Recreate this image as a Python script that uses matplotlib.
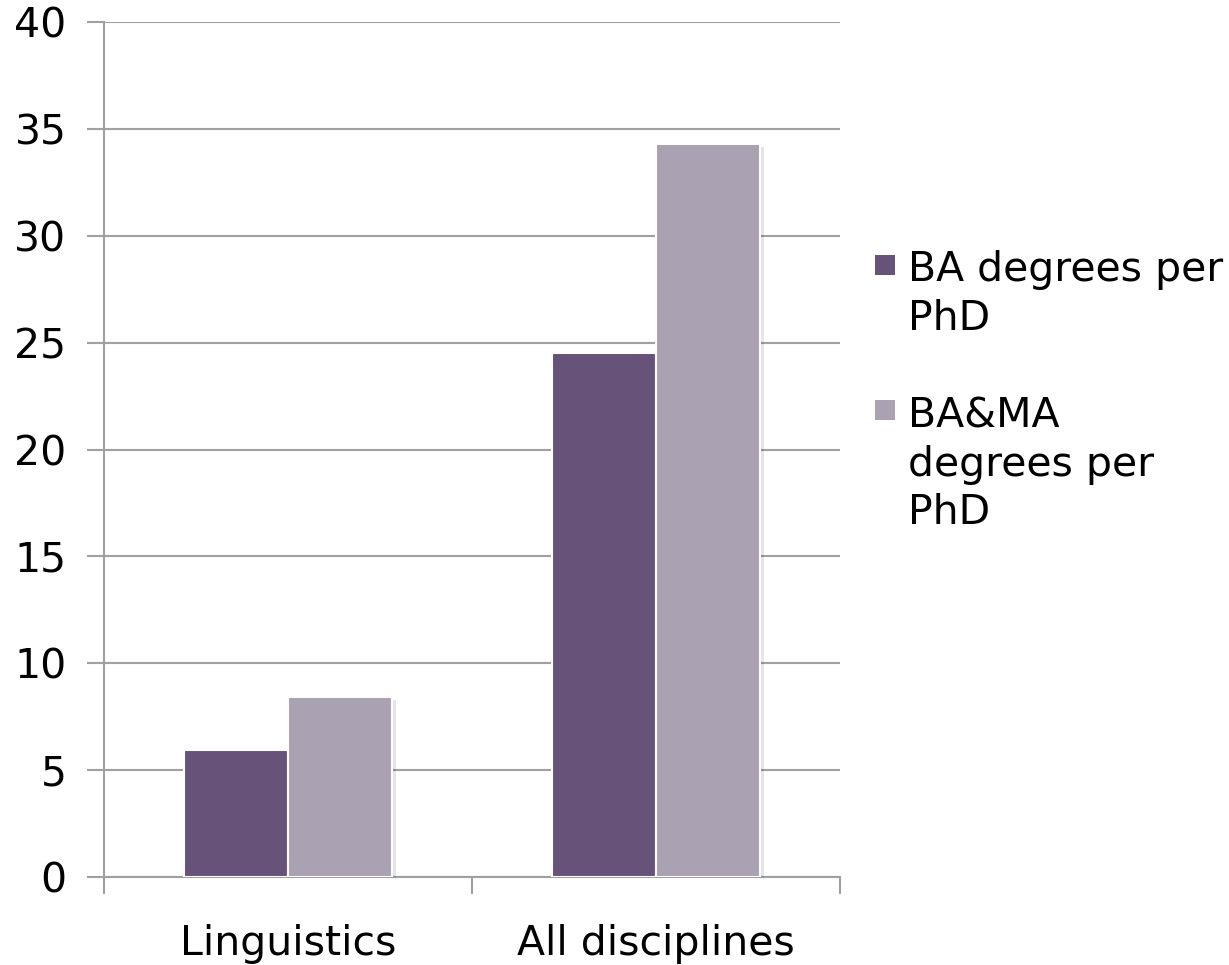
import matplotlib
matplotlib.use("Agg")
import matplotlib.pyplot as plt
import matplotlib.patheffects as pe
from matplotlib.patches import Rectangle
import numpy as np

categories = ["Linguistics", "All disciplines"]
series_names = ["BA degrees per\nPhD", "BA&MA\ndegrees per\nPhD"]
ba_values = [5.95, 24.5]
bama_values = [8.4, 34.3]
colors = ["#67527A", "#AAA1B3"]
yticks = [0, 5, 10, 15, 20, 25, 30, 35, 40]

W, H = 1229, 965
FS = 29.5
plt.rcParams['font.family'] = ['DejaVu Sans']
fig = plt.figure(figsize=(W / 100, H / 100), dpi=100)
ax = fig.add_axes([104 / W, 1 - 877 / H, (840 - 104) / W, (877 - 22) / H])

x = np.arange(len(categories))
w = 0.283
shadow = [pe.SimplePatchShadow(offset=(3, -2), shadow_rgbFace='#000000', alpha=0.10), pe.Normal()]
b1 = ax.bar(x - w/2, ba_values, w, color=colors[0], edgecolor='white', linewidth=1.5, zorder=3)
b2 = ax.bar(x + w/2, bama_values, w, color=colors[1], edgecolor='white', linewidth=1.5, zorder=3)
for b in list(b1) + list(b2):
    b.set_path_effects(shadow)

ax.set_xlim(-0.5, 1.5)
ax.set_ylim(0, 40)
ax.set_yticks(yticks)
ax.set_yticklabels([str(t) for t in yticks], fontsize=FS)
ax.yaxis.grid(True, color='#A0A0A0', linewidth=1.5, zorder=0)
ax.set_axisbelow(True)
ax.tick_params(axis='y', length=12, width=1.5, color='#A0A0A0', pad=15)

ax.set_xticks(x)
ax.set_xticklabels(categories, fontsize=FS)
ax.set_xticks([-0.5, 0.5, 1.5], minor=True)
ax.tick_params(axis='x', which='major', length=0, pad=34)
ax.tick_params(axis='x', which='minor', length=12, width=1.5, color='#A0A0A0')

for s in ['top', 'right']:
    ax.spines[s].set_visible(False)
for s in ['left', 'bottom']:
    ax.spines[s].set_color('#A0A0A0')
    ax.spines[s].set_linewidth(1.5)

# legend drawn manually (marker aligned with first text line)
leg_sq_top = [255, 400]
leg_txt_top = [250, 396]
for name, col, sq, tt in zip(series_names, colors, leg_sq_top, leg_txt_top):
    fig.patches.append(Rectangle((875 / W, 1 - (sq + 20) / H), 20 / W, 20 / H,
                                 transform=fig.transFigure, facecolor=col,
                                 edgecolor='none'))
    fig.text(908 / W, 1 - tt / H, name, fontsize=FS, va='top', ha='left',
             linespacing=1.28)

fig.savefig("out.png", dpi=100)
